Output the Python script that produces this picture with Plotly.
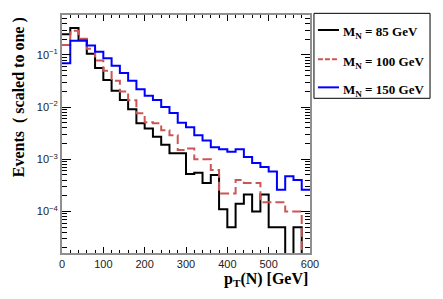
import numpy as np
import plotly.graph_objects as go

# bin edges of the pT(N) histograms [GeV]
bin_edges = [0, 20, 40, 60, 80, 100, 120, 140, 160, 180, 200, 220, 240, 260, 280, 300,
             320, 340, 360, 380, 400, 420, 440, 460, 480, 500, 520, 540, 560, 580, 600]

# normalised event fractions per bin
mn85 = [0.25, 0.33, 0.195, 0.105, 0.056, 0.033, 0.0205, 0.0137, 0.0091, 0.0049,
        0.0039, 0.0027, 0.0019, 0.0013, 0.0013, 0.00052, 0.00055, 0.00035, 0.0005, 0.00011,
        0.00005, 0.00014, 0.00021, 0.0001, 0.00021, 0.00005, 0.00005, 0.0, 0.00005, 0.0]
mn100 = [0.155, 0.29, 0.205, 0.132, 0.078, 0.05, 0.032, 0.020, 0.0135, 0.0076,
         0.0051, 0.0049, 0.0036, 0.0029, 0.0015, 0.0016, 0.001, 0.001, 0.00062, 0.00022,
         0.00022, 0.0004, 0.00035, 0.00035, 0.00015, 0.00015, 0.00015, 0.0001, 0.0001, 0.0]
mn150 = [0.069, 0.187, 0.187, 0.152, 0.115, 0.086, 0.062, 0.045, 0.032, 0.022,
         0.0165, 0.0137, 0.0100, 0.0077, 0.0050, 0.0041, 0.0029, 0.0023, 0.0017, 0.00155,
         0.0014, 0.00155, 0.0011, 0.00085, 0.00071, 0.00058, 0.00026, 0.00047, 0.0004, 0.00026]

series_names = ["<b>M<sub>N</sub> = 85 GeV</b>", "<b>M<sub>N</sub> = 100 GeV</b>",
                "<b>M<sub>N</sub> = 150 GeV</b>"]
series_colors = ["#000000", "#cc5555", "#0000ff"]
series_dash = ["solid", "9px,4px", "solid"]

x_tickvals = [0, 100, 200, 300, 400, 500, 600]
x_ticktext = ["0", "100", "200", "300", "400", "500", "600"]
y_tickvals = [1e-4, 1e-3, 1e-2, 1e-1]
y_ticktext = ["10<sup>\u22124</sup>", "10<sup>\u22123</sup>", "10<sup>\u22122</sup>", "10<sup>\u22121</sup>"]

serif = "Liberation Serif"
sans = "Liberation Sans"
axcol = "#8f8f8f"

fig = go.Figure()
for i, vals in enumerate([mn85, mn100, mn150]):
    v = np.array(vals + [vals[-1]], dtype=float)
    v = np.where(v > 0, v, 1e-9)
    fig.add_trace(go.Scatter(
        x=bin_edges, y=v, mode="lines", line_shape="hv",
        line=dict(color=series_colors[i], width=2, dash=series_dash[i]),
        name=series_names[i], showlegend=False,
    ))

# legend box drawn in paper coordinates (to the right of the frame)
leg_x0, leg_x1, leg_y0, leg_y1 = 1.016, 1.484, 0.650, 1.007
row_y = [0.937, 0.814, 0.696]
shapes = [dict(type="rect", xref="paper", yref="paper", x0=leg_x0, x1=leg_x1,
               y0=leg_y0, y1=leg_y1, line=dict(color="black", width=1),
               fillcolor="white", layer="above")]
annotations = []
for i, ry in enumerate(row_y):
    shapes.append(dict(type="line", xref="paper", yref="paper", x0=1.032, x1=1.117,
                       y0=ry, y1=ry, line=dict(color=series_colors[i], width=2,
                                               dash=series_dash[i] if i != 1 else "5px,2px")))
    annotations.append(dict(text=series_names[i], xref="paper", yref="paper",
                            x=1.125, y=ry - 0.012, xanchor="left", yanchor="middle",
                            showarrow=False, font=dict(family=serif, size=13, color="black")))

annotations += [
    dict(text="<b>Events  ( scaled to one )</b>", textangle=-90,
         xref="paper", yref="paper", x=-0.173, y=0.655,
         xanchor="center", yanchor="middle", showarrow=False,
         font=dict(family=serif, size=16, color="black")),
    dict(text="<b>p<sub>T</sub>(N) [GeV]</b>",
         xref="paper", yref="paper", x=1.0, y=-0.112,
         xanchor="right", yanchor="middle", showarrow=False,
         font=dict(family=serif, size=16, color="black")),
]

fig.update_layout(
    width=443, height=299,
    margin=dict(l=54, r=141, t=7, b=54, autoexpand=False),
    paper_bgcolor="white", plot_bgcolor="white",
    showlegend=False,
    xaxis=dict(range=[0, 600], tickmode="array", tickvals=x_tickvals, ticktext=x_ticktext,
               ticks="inside", ticklen=6, tickcolor="black", tickwidth=1,
               minor=dict(ticks="inside", ticklen=3, tickcolor="black", dtick=20, tick0=0),
               showline=True, linecolor=axcol, linewidth=2, mirror="ticks",
               showgrid=False, zeroline=False, automargin=False,
               tickfont=dict(family=sans, size=11, color="#222")),
    yaxis=dict(type="log", range=[-4.797, -0.234], tickmode="array",
               tickvals=y_tickvals, ticktext=y_ticktext,
               ticks="inside", ticklen=9, tickcolor="black", tickwidth=1,
               minor=dict(ticks="inside", ticklen=5, tickcolor="black", dtick="D1", tick0=0),
               showline=True, linecolor=axcol, linewidth=2, mirror="ticks",
               showgrid=False, zeroline=False, automargin=False,
               tickfont=dict(family=sans, size=11, color="#222")),
    shapes=shapes,
    annotations=annotations,
)

fig.write_html("out.html")
